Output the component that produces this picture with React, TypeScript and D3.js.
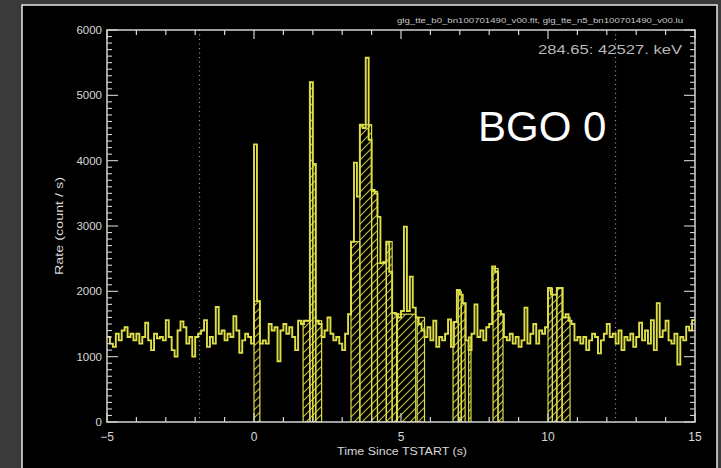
import React from "react";
import * as d3 from "d3";

// ---- data ----
const binStart = -5;
const binWidth = 0.1;
const rates: number[] = [
  1300, 1200, 1150, 1350, 1250, 1400, 1450, 1300, 1350, 1250,
  1350, 1200, 1300, 1520, 1250, 1100, 1350, 1280, 1300, 1250,
  1560, 1300, 1100, 1000, 1400, 1540, 1450, 1200, 1300, 1000,
  1300, 1350, 1400, 1560, 1150, 1300, 1200, 1760, 1350, 1400,
  1250, 1350, 1300, 1620, 1400, 1060, 1250, 1350, 1300, 1200,
  4250, 1850, 1200, 1250, 1200, 1500, 1400, 1450, 930, 1400,
  1500, 1350, 1450, 1300, 1100, 1550, 1500, 1550, 1550, 5200,
  3950, 1550, 1500, 1300, 1400, 1600, 1350, 1250, 1300, 1200,
  1100, 1350, 1650, 2760, 3970, 3450, 4550, 4500, 5575, 4320,
  3550, 3500, 3140, 2430, 2450, 2760, 2300, 1670, 1650, 1600,
  1700, 2990, 1700, 2225, 1750, 1600, 1500, 1400, 1300, 1450,
  1250, 1550, 1150, 1300, 1250, 1350, 1570, 1150, 1530, 2020,
  1950, 1820, 1250, 1100, 1350, 1800, 1300, 1400, 1250, 1450,
  1500, 2380, 2300, 1700, 1650, 1300, 1250, 1350, 1200, 1300,
  1150, 1250, 1750, 1200, 1350, 1500, 1200, 1400, 1350, 1450,
  2050, 1950, 1950, 2050, 2050, 1600, 1650, 1550, 1500, 1250,
  1300, 1200, 1300, 1100, 1250, 1350, 1300, 1050, 1250, 1350,
  1500, 1300, 1350, 1200, 1400, 1100, 1300, 1250, 1350, 1150,
  1300, 1520, 1250, 1400, 1200, 1560, 1100, 1820, 1300, 1400,
  1550, 1250, 1200, 1350, 880, 1300, 1250, 1460, 1400, 1560,
];

// selected (hatched) source intervals
const hatchStart = [0.0, 1.67, 1.9, 2.0, 2.1, 3.3, 3.6, 4.0, 4.2, 4.5, 4.7, 4.88, 5.55, 6.77, 6.95, 7.05, 7.3, 8.13, 8.3, 10.0, 10.15, 10.3, 10.48];
const hatchEnd   = [0.2, 1.9, 2.0, 2.1, 2.3, 3.6, 4.0, 4.2, 4.5, 4.7, 4.85, 5.5, 5.8, 6.95, 7.05, 7.18, 7.38, 8.3, 8.47, 10.15, 10.3, 10.48, 10.75];
const hatchRate  = [1850, 1550, 5200, 3950, 1550, 2760, 4550, 3530, 2430, 2760, 1670, 1650, 1600, 1530, 2000, 1820, 1300, 2350, 1650, 2050, 1950, 2050, 1600];

const bgLines = [-1.85, 12.3];
const xMajorTicks = [-5, 0, 5, 10, 15];
const xTickLabels = ["\u22125", "0", "5", "10", "15"];
const yMajorTicks = [0, 1000, 2000, 3000, 4000, 5000, 6000];

const W = 721, H = 468;
const L = 107, R = 695, T = 30, B = 422;
const YEL = "#dede48";
const AX = "#d4d4d4";

export default function App() {
  const x = d3.scaleLinear().domain([-5, 15]).range([L, R]);
  const y = d3.scaleLinear().domain([0, 6000]).range([B, T]);

  const pts: [number, number][] = rates.map((r, i) => [binStart + i * binWidth, r]);
  pts.push([binStart + rates.length * binWidth, rates[rates.length - 1]]);
  const line = d3.line<[number, number]>()
    .x(d => x(d[0]))
    .y(d => y(d[1]))
    .curve(d3.curveStepAfter);

  const xMinor = d3.range(-5, 15.001, 1);
  const yMinor = d3.range(0, 6000.001, 100);

  return (
    <svg width={W} height={H} style={{ position: "absolute", left: 0, top: 0, display: "block" }}
      fontFamily="'Liberation Sans', Arial, sans-serif">
      <defs>
        <pattern id="hatch" patternUnits="userSpaceOnUse" width="8" height="8">
          <path d="M-2,2 L2,-2 M0,8 L8,0 M6,10 L10,6" stroke={YEL} strokeWidth="1.2" opacity="0.85" />
        </pattern>
        <clipPath id="plotclip">
          <rect x={L} y={T} width={R - L} height={B - T} />
        </clipPath>
      </defs>
      <rect x={0} y={0} width={W} height={H} fill="#3a3a3a" />
      <rect x={22} y={5} width={695} height={470} fill="#000" stroke="#e8e8e8" strokeWidth={1.5} />

      {/* dotted background-interval lines */}
      {bgLines.map((t, i) => (
        <line key={"bg" + i} x1={x(t)} x2={x(t)} y1={T} y2={B} stroke="#bbb" strokeWidth={1} strokeDasharray="1,3.5" />
      ))}

      <g clipPath="url(#plotclip)">
        {hatchStart.map((s, i) => (
          <rect key={"h" + i} x={x(s)} y={y(hatchRate[i])} width={x(hatchEnd[i]) - x(s)} height={y(0) - y(hatchRate[i])}
            fill="url(#hatch)" stroke={YEL} strokeWidth={1.2} />
        ))}
        <path d={line(pts) || ""} fill="none" stroke={YEL} strokeWidth={1.9} />
      </g>

      {/* frame */}
      <rect x={L} y={T} width={R - L} height={B - T} fill="none" stroke={AX} strokeWidth={1.5} />
      {xMinor.map((t, i) => {
        const major = xMajorTicks.includes(Math.round(t));
        const len = major ? 9 : 5;
        return (
          <g key={"xt" + i} stroke={AX} strokeWidth={1.2}>
            <line x1={x(t)} x2={x(t)} y1={B} y2={B - len} />
            <line x1={x(t)} x2={x(t)} y1={T} y2={T + len} />
          </g>
        );
      })}
      {yMinor.map((v, i) => {
        const major = v % 1000 === 0;
        const len = major ? 11 : 5;
        return (
          <g key={"yt" + i} stroke={AX} strokeWidth={1.1}>
            <line x1={L} x2={L + len} y1={y(v)} y2={y(v)} />
            <line x1={R} x2={R - len} y1={y(v)} y2={y(v)} />
          </g>
        );
      })}
      {xMajorTicks.map((t, i) => (
        <text key={"xl" + i} x={x(t)} y={441} fill="#d8d8d8" fontSize={12} textAnchor="middle">{xTickLabels[i]}</text>
      ))}
      {yMajorTicks.map((v, i) => (
        <text key={"yl" + i} x={102} y={y(v) + 4} fill="#d8d8d8" fontSize={11.5} textAnchor="end">{v}</text>
      ))}
      <text x={337} y={455} fill="#d8d8d8" fontSize={11.5} textLength={130} lengthAdjust="spacingAndGlyphs">Time Since TSTART (s)</text>
      <text transform="translate(63,275) rotate(-90)" fill="#d8d8d8" fontSize={11} textLength={98} lengthAdjust="spacingAndGlyphs">Rate (count / s)</text>
      <text x={538} y={54} fill="#b8b8b8" fontSize={13.5} textLength={144} lengthAdjust="spacingAndGlyphs">284.65: 42527. keV</text>
      <text x={397} y={23} fill="#c8c8c8" fontSize={6.5} textLength={286} lengthAdjust="spacingAndGlyphs">glg_tte_b0_bn100701490_v00.fit, glg_tte_n5_bn100701490_v00.lu</text>
      <text x={478} y={141} fill="#ffffff" fontSize={42}>BGO 0</text>
    </svg>
  );
}
